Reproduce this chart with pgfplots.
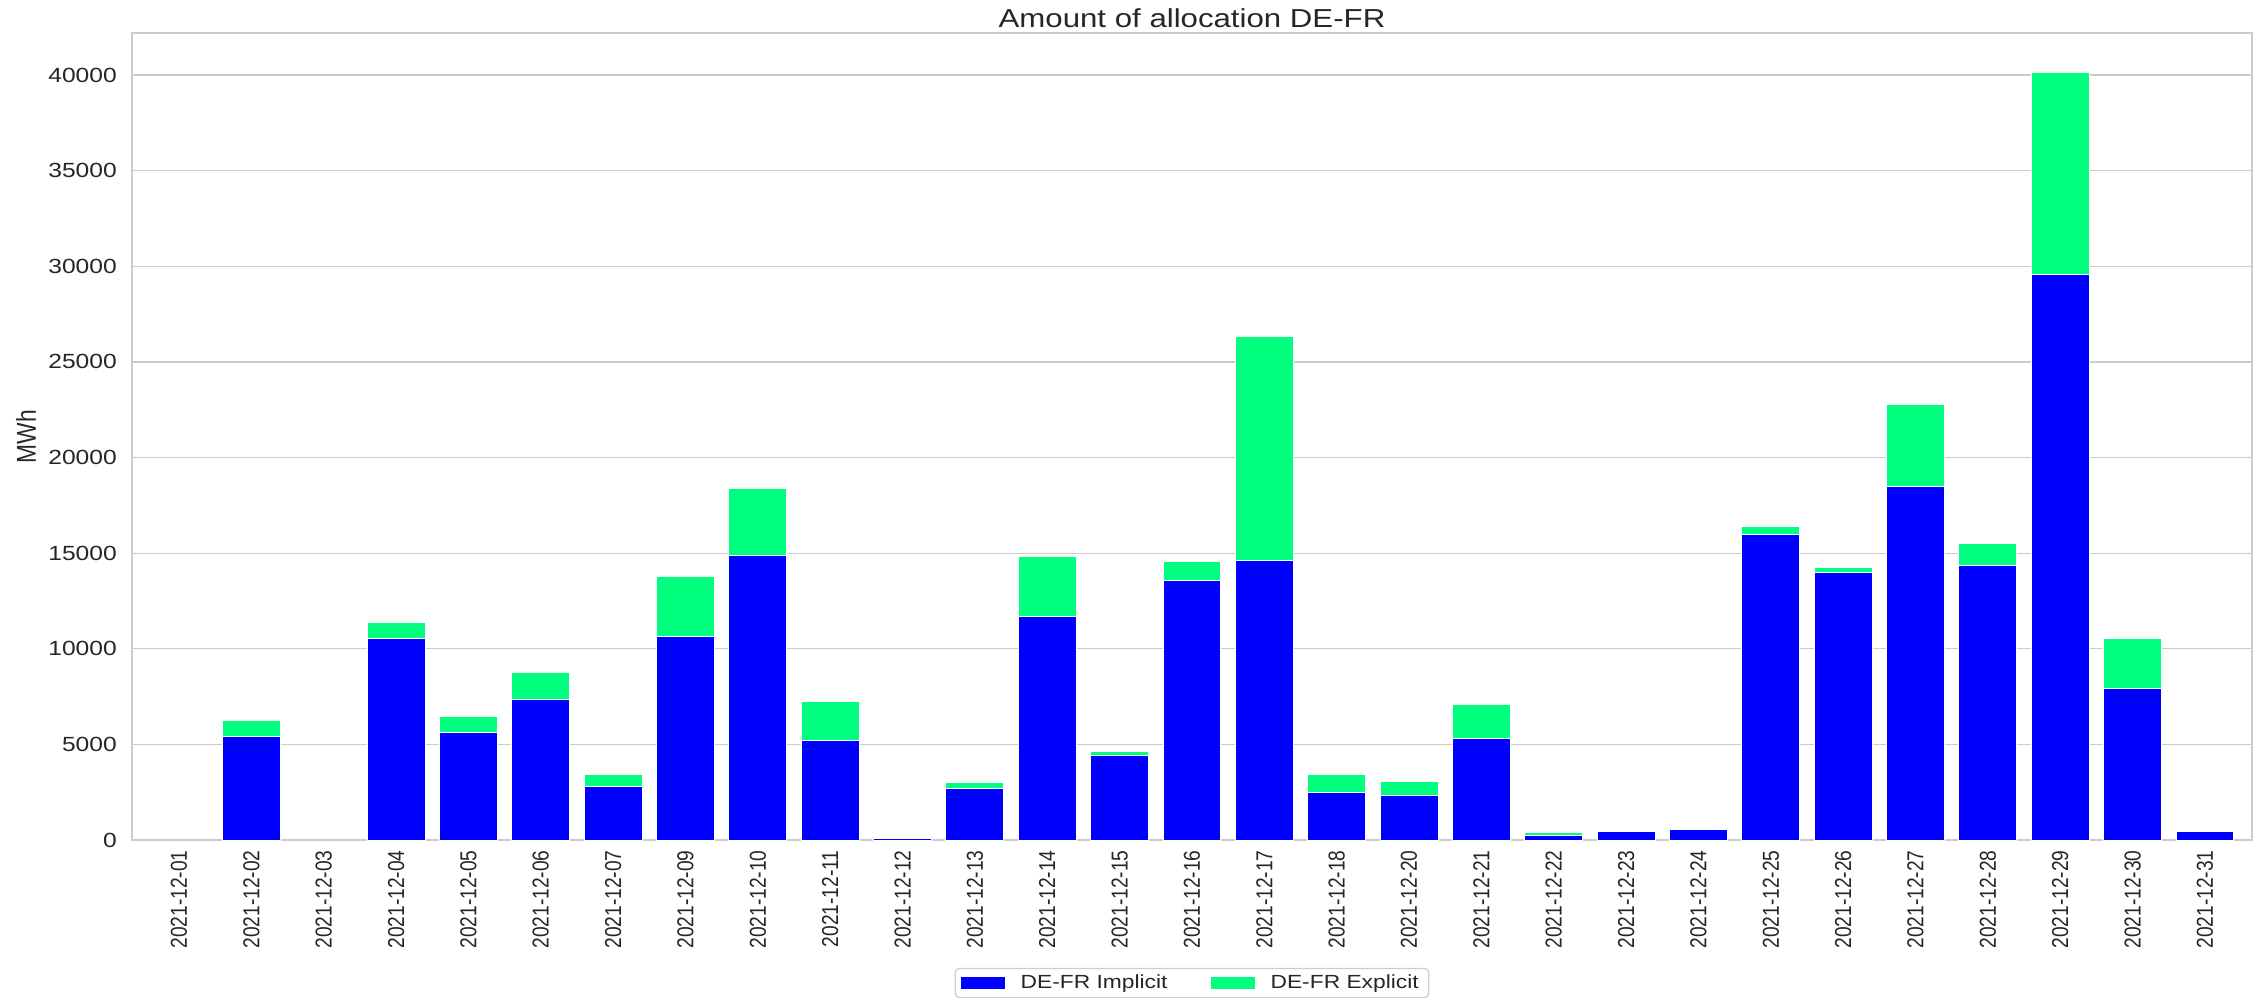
\documentclass[border=0pt]{standalone}
\usepackage{fontspec}
\setmainfont{Liberation Sans}[FakeStretch=1.2]
\newfontfamily\rotfont{Liberation Sans}
\usepackage{graphicx}
\usepackage{pgfplots}
\usepackage{pgfplotstable}
\pgfplotsset{compat=1.18}
\definecolor{implc}{HTML}{0000FF}
\definecolor{explc}{HTML}{00FF7F}
\definecolor{gridc}{HTML}{CCCCCC}
\definecolor{txtc}{HTML}{262626}
\newcommand{\rl}[1]{\scalebox{1}[1.2]{\rotfont #1}}
\pgfplotsset{
  layers/mylayers/.define layer set={axis background,axis grid,main,axis ticks,axis lines,axis tick labels,axis descriptions,axis foreground}{},
}
\pgfplotstableread{
x impl expl
0 0 0
1 5410 840
2 0 0
3 10540 830
4 5620 820
5 7330 1450
6 2820 580
7 10660 3100
8 14900 3485
9 5200 2025
10 70 0
11 2670 315
12 11680 3120
13 4400 245
14 13565 980
15 14605 11700
16 2480 925
17 2320 720
18 5300 1800
19 228 140
20 420 0
21 526 0
22 15950 420
23 13990 240
24 18480 4270
25 14370 1145
26 29560 10590
27 7930 2620
28 430 0
}\datatable
\begin{document}
\begin{tikzpicture}
\begin{axis}[
  set layers=mylayers,
  at={(0,0)}, anchor=south west,
  scale only axis, width=1060pt, height=403.5pt,
  xmin=-0.65, xmax=28.65, ymin=0, ymax=42200,
  enlargelimits=false,
  ybar stacked, bar width=0.8,
  xtick={0,...,28},
  xticklabels={\rl{2021-12-01},\rl{2021-12-02},\rl{2021-12-03},\rl{2021-12-04},\rl{2021-12-05},\rl{2021-12-06},\rl{2021-12-07},\rl{2021-12-09},\rl{2021-12-10},\rl{2021-12-11},\rl{2021-12-12},\rl{2021-12-13},\rl{2021-12-14},\rl{2021-12-15},\rl{2021-12-16},\rl{2021-12-17},\rl{2021-12-18},\rl{2021-12-20},\rl{2021-12-21},\rl{2021-12-22},\rl{2021-12-23},\rl{2021-12-24},\rl{2021-12-25},\rl{2021-12-26},\rl{2021-12-27},\rl{2021-12-28},\rl{2021-12-29},\rl{2021-12-30},\rl{2021-12-31}},
  ytick={0,5000,...,40000},
  scaled y ticks=false,
  major tick length=0pt,
  ymajorgrids,
  grid style={gridc, line width=0.65pt},
  axis line style={gridc, line width=1.15pt},
  xticklabel style={yshift=-5pt, rotate=90, anchor=east, inner sep=0pt, font=\fontsize{9.6}{11}\selectfont, text=txtc},
  yticklabel style={xshift=-7.4pt, anchor=east, inner sep=0pt, font=\fontsize{10.25}{12}\selectfont, text=txtc},
  ylabel={\rl{MWh}},
  ylabel style={at={(axis description cs:-0.05,0.5)}, anchor=center, font=\fontsize{11.4}{13}\selectfont, text=txtc},
  legend style={at={(0.5,-0.1586)}, anchor=north, legend columns=2, draw=gridc, line width=0.6pt, rounded corners=2pt,
    font=\fontsize{9.5}{11}\selectfont, text=txtc, inner xsep=3pt, inner ysep=1pt,
    /tikz/every odd column/.append style={column sep=5.7pt},
    /tikz/every even column/.append style={column sep=19.8pt}},
  legend cell align=left,
  legend image code/.code={\fill[#1, draw=none, sharp corners] (0pt,-3pt) rectangle (22pt,3pt);},
  /pgf/number format/1000 sep={},
  /pgf/number format/assume math mode=true,
  extra description/.code={
    \node[anchor=base, inner sep=0pt, text=txtc, font=\fontsize{13}{15}\selectfont] at (0.5,1.0074) {Amount of allocation DE-FR};
  },
]
\addplot[fill=implc, draw=white, line width=0.5pt] table[x=x, y=impl] {\datatable};
\addplot[fill=explc, draw=white, line width=0.5pt] table[x=x, y=expl] {\datatable};
\legend{DE-FR Implicit, DE-FR Explicit}
\end{axis}
\pgfresetboundingbox
\path (-66pt,-78.5pt) rectangle (1063.5pt,420pt);
\end{tikzpicture}
\end{document}
